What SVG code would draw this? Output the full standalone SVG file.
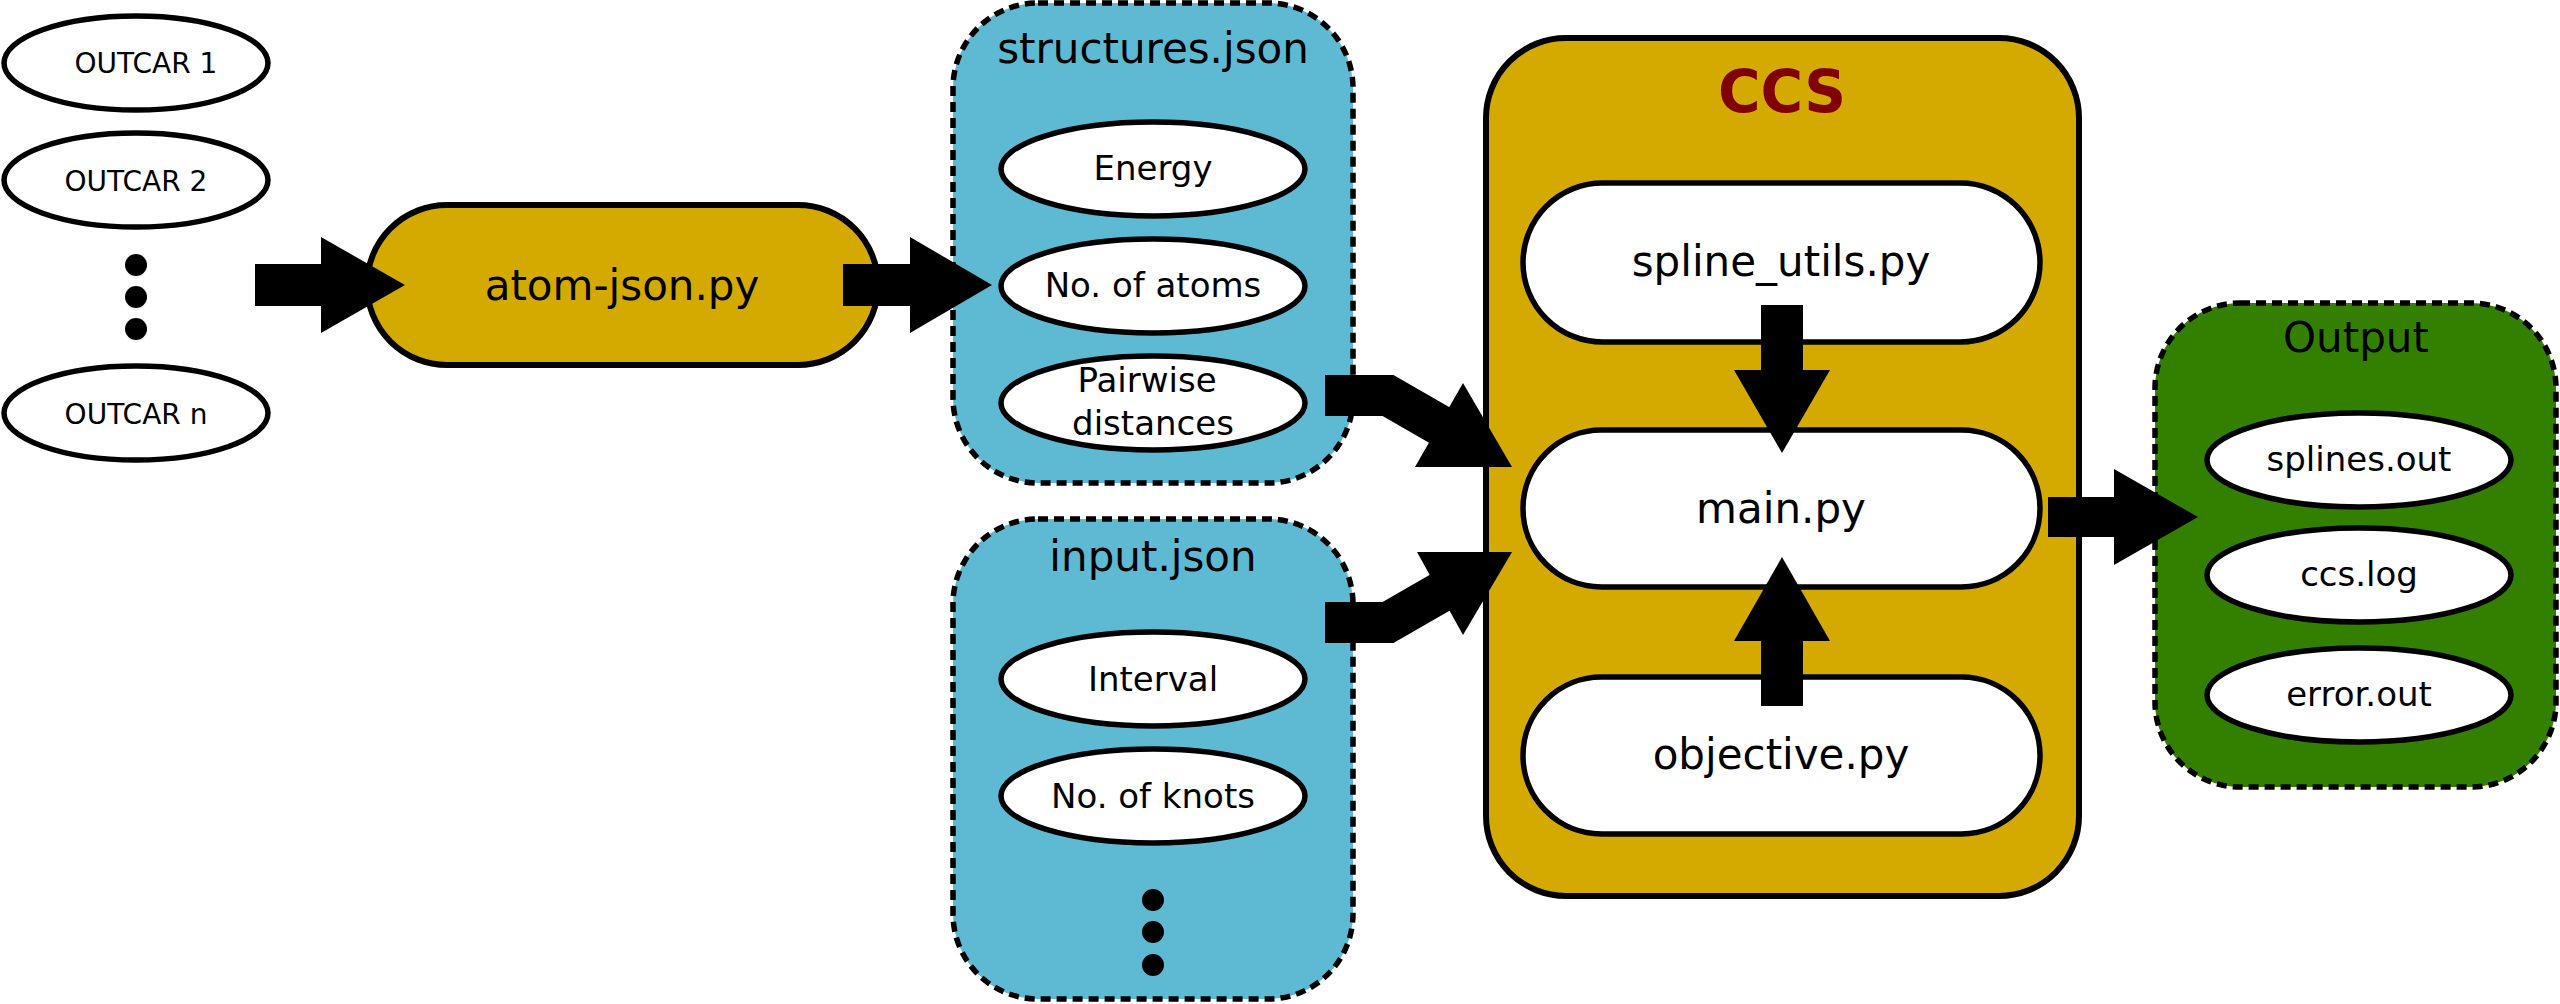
<svg xmlns="http://www.w3.org/2000/svg" width="2560" height="1004" viewBox="0 0 2560 1004">
<style>
text{font-family:"DejaVu Sans","Verdana",sans-serif;fill:#000;text-anchor:middle}
.ell{fill:#fff;stroke:#000;stroke-width:5.5}
.pill{fill:#fff;stroke:#000;stroke-width:5.5}
.gold{fill:#D4AA00;stroke:#000;stroke-width:6}
.blue{fill:#5EBAD3;stroke:#000;stroke-width:5.5;stroke-dasharray:10 6}
.green{fill:#338000;stroke:#000;stroke-width:5.5;stroke-dasharray:10 6}
.t28{font-size:28px}
.t34{font-size:34px}
.t42{font-size:42px}
.dot{fill:#000}
.shaft{fill:none;stroke:#000;stroke-width:41;stroke-linejoin:miter}
.head{fill:#000}
</style>
<rect width="2560" height="1004" fill="#fff"/>

<g id="outcar1"><ellipse class="ell" cx="136" cy="63" rx="132" ry="47"/><text class="t28" x="146" y="73">OUTCAR 1</text></g>
<g id="outcar2"><ellipse class="ell" cx="136" cy="180" rx="132" ry="47"/><text class="t28" x="136" y="191">OUTCAR 2</text></g>
<g id="outcar-dots"><circle class="dot" cx="136" cy="265" r="11"/><circle class="dot" cx="136" cy="297" r="11"/><circle class="dot" cx="136" cy="329" r="11"/></g>
<g id="outcarn"><ellipse class="ell" cx="136" cy="413" rx="132" ry="47"/><text class="t28" x="136" y="424">OUTCAR n</text></g>

<g id="atomjson"><rect class="gold" x="367" y="205" width="511" height="160" rx="80" ry="80"/><text class="t42" x="622" y="300">atom-json.py</text></g>

<g id="structures">
<rect class="blue" x="953" y="3" width="400" height="480" rx="85" ry="85"/>
<text class="t42" x="1153" y="63">structures.json</text>
<g id="energy"><ellipse class="ell" cx="1153" cy="169" rx="152" ry="47"/><text class="t34" x="1153" y="180">Energy</text></g>
<g id="natoms"><ellipse class="ell" cx="1153" cy="286" rx="152" ry="47"/><text class="t34" x="1153" y="297">No. of atoms</text></g>
<g id="pairwise"><ellipse class="ell" cx="1153" cy="403" rx="152" ry="47"/><text class="t34" x="1147" y="392">Pairwise</text><text class="t34" x="1153" y="435">distances</text></g>
</g>

<g id="input">
<rect class="blue" x="953" y="519" width="400" height="480" rx="85" ry="85"/>
<text class="t42" x="1153" y="571">input.json</text>
<g id="interval"><ellipse class="ell" cx="1153" cy="679" rx="152" ry="47"/><text class="t34" x="1153" y="691">Interval</text></g>
<g id="nknots"><ellipse class="ell" cx="1153" cy="796" rx="152" ry="47"/><text class="t34" x="1153" y="808">No. of knots</text></g>
<g id="input-dots"><circle class="dot" cx="1153" cy="900" r="11"/><circle class="dot" cx="1153" cy="932" r="11"/><circle class="dot" cx="1153" cy="965" r="11"/></g>
</g>

<g id="ccs">
<rect class="gold" x="1486" y="38" width="593" height="858" rx="80" ry="80"/>
<text x="1782" y="112" style="font-size:58px;font-weight:bold;fill:#800000">CCS</text>
<g id="spline"><rect class="pill" x="1523" y="183" width="517" height="159" rx="79.5" ry="79.5"/><text class="t42" x="1781" y="276">spline_utils.py</text></g>
<g id="main"><rect class="pill" x="1523" y="430" width="517" height="157" rx="78.5" ry="78.5"/><text class="t42" x="1781" y="523">main.py</text></g>
<g id="objective"><rect class="pill" x="1523" y="677" width="517" height="157" rx="78.5" ry="78.5"/><text class="t42" x="1781" y="769">objective.py</text></g>
</g>

<g id="output">
<rect class="green" x="2155" y="303" width="401" height="484" rx="85" ry="85"/>
<text class="t42" x="2356" y="352">Output</text>
<g id="splinesout"><ellipse class="ell" cx="2359" cy="460" rx="152" ry="47"/><text class="t34" x="2359" y="471">splines.out</text></g>
<g id="ccslog"><ellipse class="ell" cx="2359" cy="575" rx="152" ry="47"/><text class="t34" x="2359" y="586">ccs.log</text></g>
<g id="errorout"><ellipse class="ell" cx="2359" cy="695" rx="152" ry="47"/><text class="t34" x="2359" y="706">error.out</text></g>
</g>

<g id="connectors">
<rect x="255" y="264" width="68" height="42" fill="#000"/>
<polygon class="head" points="321,237 405,285 321,333"/>
<rect x="843" y="264" width="69" height="42" fill="#000"/>
<polygon class="head" points="910,237 992,285 910,333"/>
<path class="shaft" d="M1325,395.5 H1388 L1441,426"/>
<polygon class="head" points="1463,383 1512,467 1415,467"/>
<path class="shaft" d="M1325,622.5 H1388 L1441,592"/>
<polygon class="head" points="1417,552 1512,552 1463,635"/>
<rect x="1761" y="305" width="42" height="67" fill="#000"/>
<polygon class="head" points="1734,370 1830,370 1782,453"/>
<rect x="1761" y="639" width="42" height="67" fill="#000"/>
<polygon class="head" points="1734,641 1830,641 1782,557"/>
<rect x="2048" y="497" width="68" height="40" fill="#000"/>
<polygon class="head" points="2114,469 2198,517 2114,565"/>
</g>
</svg>
